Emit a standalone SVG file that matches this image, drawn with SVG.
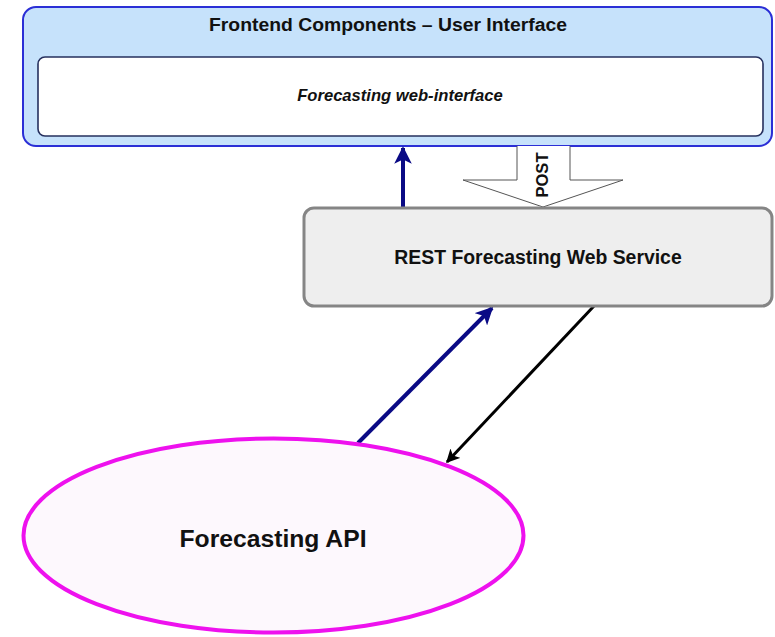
<svg xmlns="http://www.w3.org/2000/svg" width="775" height="637" viewBox="0 0 775 637">
  <style>
    text { font-family: "Liberation Sans", Arial, sans-serif; font-weight: bold; fill: #111; }
    .frame { fill: #c6e2fb; stroke: #2b2fd6; stroke-width: 2; }
    .inner { fill: #ffffff; stroke: #26305e; stroke-width: 1.6; }
    .service { fill: #eeeeee; stroke: #858585; stroke-width: 3; }
    .api { fill: #fdf8fd; stroke: #ee11ee; stroke-width: 4; }
    .blue-link { stroke: #0a0a85; stroke-width: 4; fill: none; }
    .black-link { stroke: #000000; stroke-width: 3; fill: none; }
  </style>
  <defs>
    <marker id="head-blue" viewBox="0 0 10 10" refX="9" refY="5" markerWidth="4.4" markerHeight="4.4" markerUnits="strokeWidth" orient="auto">
      <path d="M0,0 L10,5 L0,10 L2.5,5 Z" fill="#0a0a85"/>
    </marker>
    <marker id="head-black" viewBox="0 0 10 10" refX="9" refY="5" markerWidth="4.5" markerHeight="4.5" markerUnits="strokeWidth" orient="auto">
      <path d="M0,0 L10,5 L0,10 L2.5,5 Z" fill="#000"/>
    </marker>
  </defs>

  <rect width="775" height="637" fill="#ffffff"/>

  <g id="frontend">
    <rect class="frame" x="23" y="7" width="749" height="139" rx="13"/>
    <text x="388" y="31" font-size="17.6" text-anchor="middle" textLength="358" lengthAdjust="spacingAndGlyphs">Frontend Components – User Interface</text>
  </g>

  <g id="web-interface">
    <rect class="inner" x="38" y="57" width="725" height="79" rx="7"/>
    <text x="400" y="101" font-size="16.6" font-style="italic" text-anchor="middle">Forecasting web-interface</text>
  </g>

  <g id="connectors">
    <!-- POST block arrow from the interface down to the service -->
    <g id="post">
      <path d="M517,146 L517,180 L463,180 L543,207 L623,180 L570,180 L570,146" fill="#ffffff" stroke="#555" stroke-width="1"/>
      <text transform="translate(548,175) rotate(-90)" font-size="16.5" text-anchor="middle">POST</text>
    </g>
    <line class="blue-link" x1="403" y1="207" x2="403" y2="148" marker-end="url(#head-blue)"/>
    <line class="blue-link" x1="358" y1="443" x2="492" y2="308" marker-end="url(#head-blue)"/>
    <line class="black-link" x1="594" y1="306" x2="447" y2="462" marker-end="url(#head-black)"/>
  </g>

  <g id="rest-service">
    <rect class="service" x="304" y="208" width="468" height="98" rx="10"/>
    <text x="538" y="264" font-size="19.4" text-anchor="middle">REST Forecasting Web Service</text>
  </g>

  <g id="forecasting-api">
    <ellipse class="api" cx="273.5" cy="535.5" rx="250" ry="97"/>
    <text x="273" y="547" font-size="24.7" text-anchor="middle">Forecasting API</text>
  </g>
</svg>
